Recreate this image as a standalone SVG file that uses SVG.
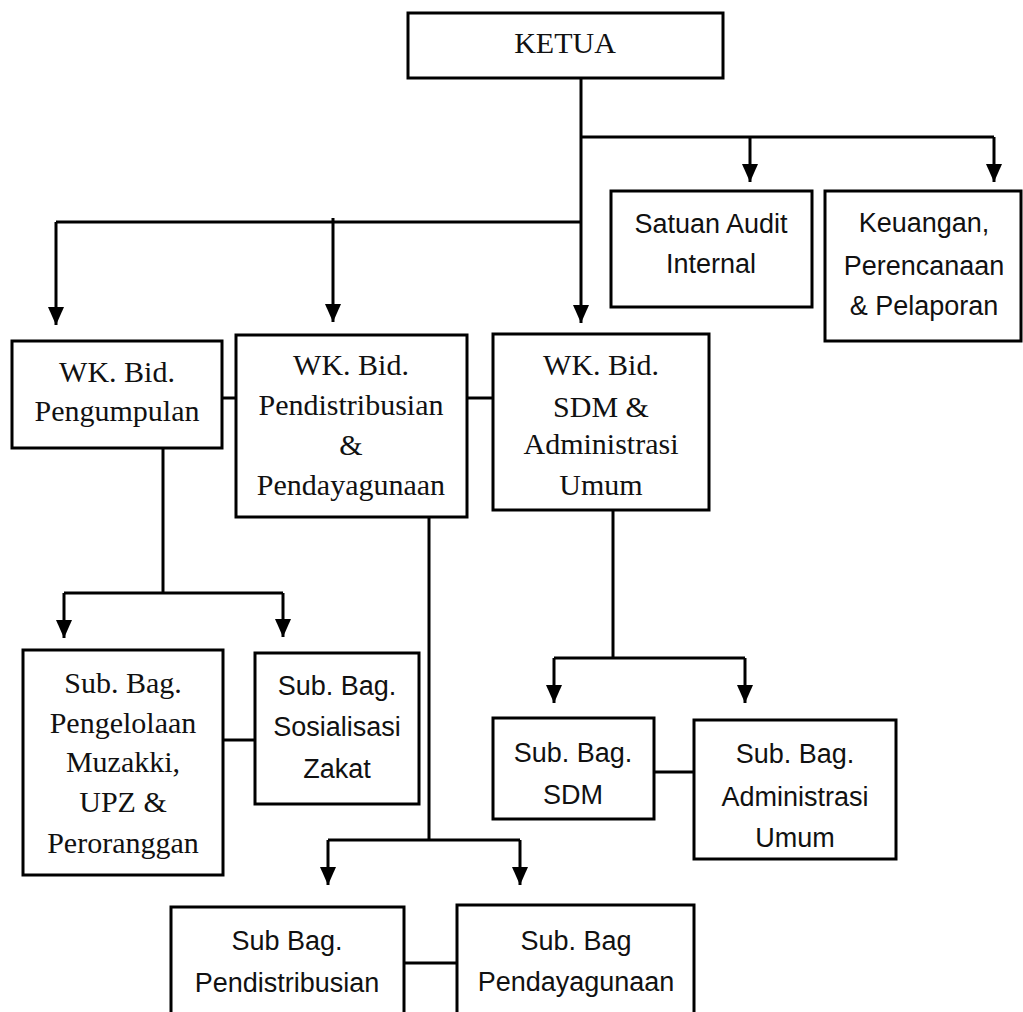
<svg xmlns="http://www.w3.org/2000/svg" width="1023" height="1012" viewBox="0 0 1023 1012">
<style>
.box{fill:#fff;stroke:#000;stroke-width:3}
.ln{fill:none;stroke:#000;stroke-width:3}
.ar{fill:none;stroke:#000;stroke-width:3;marker-end:url(#ah)}
.tm{font-family:"Liberation Serif","Times New Roman",serif;font-size:30px;fill:#111;text-anchor:middle}
.sn{font-family:"Liberation Sans",Arial,sans-serif;font-size:27px;fill:#111;text-anchor:middle}
</style>
<defs>
<marker id="ah" markerUnits="userSpaceOnUse" markerWidth="18" markerHeight="16" refX="18" refY="8" orient="auto" viewBox="0 0 18 16">
<path d="M0,0 L18,8 L0,16 z" fill="#000"/>
</marker>
</defs>
<rect width="1023" height="1012" fill="#fff"/>
<g id="connectors">
<path class="ar" d="M581,78 V323"/>
<path class="ln" d="M581,137 H994"/>
<path class="ar" d="M750,137 V182"/>
<path class="ar" d="M994,137 V182"/>
<path class="ln" d="M581,222 H56"/>
<path class="ar" d="M56,222 V325"/>
<path class="ar" d="M333,218 V322"/>
<path class="ln" d="M222,398 H236"/>
<path class="ln" d="M467,398 H493"/>
<path class="ln" d="M163,448 V593"/>
<path class="ln" d="M64,593 H283"/>
<path class="ar" d="M64,593 V638"/>
<path class="ar" d="M283,593 V637"/>
<path class="ln" d="M223,740 H255"/>
<path class="ln" d="M429,517 V840"/>
<path class="ln" d="M328,840 H520"/>
<path class="ar" d="M328,840 V885"/>
<path class="ar" d="M520,840 V885"/>
<path class="ln" d="M404,963 H457"/>
<path class="ln" d="M613,510 V658"/>
<path class="ln" d="M554,658 H745"/>
<path class="ar" d="M554,658 V703"/>
<path class="ar" d="M745,658 V703"/>
<path class="ln" d="M654,772 H694"/>
</g>
<g id="ketua">
<rect class="box" x="408" y="13" width="315" height="65"/>
<text class="tm" x="565" y="53">KETUA</text>
</g>
<g id="satuan-audit">
<rect class="box" x="611" y="191" width="201" height="116"/>
<text class="sn" x="711" y="233">Satuan Audit</text>
<text class="sn" x="711" y="273">Internal</text>
</g>
<g id="keuangan">
<rect class="box" x="825" y="191" width="196" height="150"/>
<text class="sn" x="924" y="232">Keuangan,</text>
<text class="sn" x="924" y="275">Perencanaan</text>
<text class="sn" x="924" y="315">&amp; Pelaporan</text>
</g>
<g id="wk-pengumpulan">
<rect class="box" x="12" y="341" width="210" height="107"/>
<text class="tm" x="117" y="382">WK. Bid.</text>
<text class="tm" x="117" y="421">Pengumpulan</text>
</g>
<g id="wk-pendistribusian">
<rect class="box" x="236" y="335" width="231" height="182"/>
<text class="tm" x="351" y="375">WK. Bid.</text>
<text class="tm" x="351" y="415">Pendistribusian</text>
<text class="tm" x="351" y="455">&amp;</text>
<text class="tm" x="351" y="495">Pendayagunaan</text>
</g>
<g id="wk-sdm">
<rect class="box" x="493" y="334" width="216" height="176"/>
<text class="tm" x="601" y="375">WK. Bid.</text>
<text class="tm" x="601" y="417">SDM &amp;</text>
<text class="tm" x="601" y="454">Administrasi</text>
<text class="tm" x="601" y="495">Umum</text>
</g>
<g id="sub-pengelolaan">
<rect class="box" x="23" y="650" width="200" height="225"/>
<text class="tm" x="123" y="693">Sub. Bag.</text>
<text class="tm" x="123" y="733">Pengelolaan</text>
<text class="tm" x="123" y="772">Muzakki,</text>
<text class="tm" x="123" y="812">UPZ &amp;</text>
<text class="tm" x="123" y="853">Peroranggan</text>
</g>
<g id="sub-sosialisasi">
<rect class="box" x="255" y="653" width="164" height="151"/>
<text class="sn" x="337" y="695">Sub. Bag.</text>
<text class="sn" x="337" y="736">Sosialisasi</text>
<text class="sn" x="337" y="778">Zakat</text>
</g>
<g id="sub-sdm">
<rect class="box" x="493" y="718" width="161" height="101"/>
<text class="sn" x="573" y="762">Sub. Bag.</text>
<text class="sn" x="573" y="804">SDM</text>
</g>
<g id="sub-administrasi">
<rect class="box" x="694" y="720" width="202" height="139"/>
<text class="sn" x="795" y="763">Sub. Bag.</text>
<text class="sn" x="795" y="806">Administrasi</text>
<text class="sn" x="795" y="847">Umum</text>
</g>
<g id="sub-pendistribusian">
<rect class="box" x="171" y="907" width="233" height="110"/>
<text class="sn" x="287" y="950">Sub Bag.</text>
<text class="sn" x="287" y="992">Pendistribusian</text>
</g>
<g id="sub-pendayagunaan">
<rect class="box" x="457" y="905" width="237" height="112"/>
<text class="sn" x="576" y="950">Sub. Bag</text>
<text class="sn" x="576" y="991">Pendayagunaan</text>
</g>
</svg>
